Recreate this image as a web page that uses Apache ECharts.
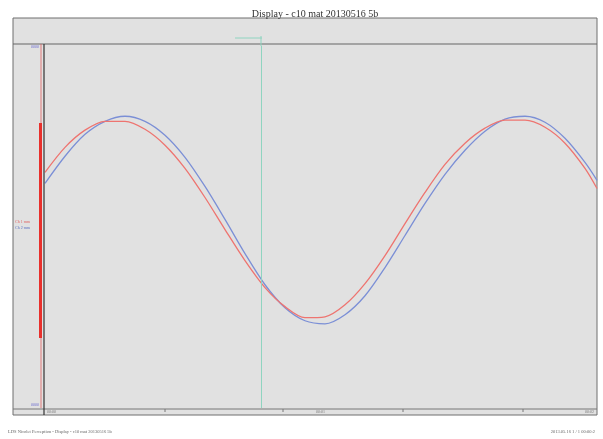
<!DOCTYPE html>
<html>
<head>
<meta charset="utf-8">
<script src="https://cdn.jsdelivr.net/npm/echarts@6/dist/echarts.min.js"></script>
<style>html,body{margin:0;padding:0;background:#fff}#c{width:603px;height:439px}</style>
</head>
<body>
<div id="c"></div>
<script>
const titleText = 'Display - c10 mat 20130516 5b';
const footerLeft = 'LDS Nicolet Perception - Display - c10 mat 20130516 5b';
const footerRight = '2013.05.16 1 / 1 00:00:2';
const timeMs = [0, 40, 80, 120, 160, 200, 240, 280, 320, 360, 400, 440, 480, 520, 560, 600, 640, 680, 720, 760, 800, 840, 880, 920, 960, 1000, 1040, 1080, 1104];
const blueY = [24.1, 39.1, 51.2, 58.4, 61.2, 58.4, 50.7, 38.5, 22.4, 4.2, -14.7, -31.9, -44.6, -51.8, -53.5, -48.5, -38.0, -22.4, -4.7, 13.0, 29.1, 42.4, 52.9, 59.6, 61.2, 57.9, 49.0, 35.7, 25.8];
const redY = [30.2, 44.0, 53.5, 58.4, 58.4, 54.0, 45.2, 32.4, 16.3, -1.4, -18.6, -33.5, -44.0, -50.1, -49.6, -43.0, -31.3, -15.8, 1.9, 19.1, 34.6, 46.3, 54.6, 59.0, 59.0, 55.1, 46.3, 32.4, 21.3];
const cursorX = 432;
const xTickLabels = ['00:00', '00:01', '00:02'];

const chart = echarts.init(document.getElementById('c'));
const pair = (xs, ys) => xs.map((x, i) => [x, ys[i]]);
const font = 'Liberation Serif';
chart.setOption({
  animation: false,
  backgroundColor: '#ffffff',
  title: {
    text: titleText, left: 310, top: 4, textAlign: 'center',
    textStyle: {fontFamily: font, fontSize: 10, fontWeight: 'normal', color: '#333'}
  },
  grid: {left: 45, right: 6, top: 46, bottom: 31, show: false},
  xAxis: {
    type: 'value', min: 0, max: 1104,
    axisLine: {show: false}, axisTick: {show: false}, axisLabel: {show: false}, splitLine: {show: false}
  },
  yAxis: {
    type: 'value', min: -100, max: 100,
    axisLine: {show: false}, axisTick: {show: false}, axisLabel: {show: false}, splitLine: {show: false}
  },
  graphic: [
    {type: 'rect', z: -10, shape: {x: 13, y: 18, width: 584, height: 397}, style: {fill: '#e1e1e1', stroke: '#6e6e6e', lineWidth: 1}},
    {type: 'line', z: 5, shape: {x1: 13, y1: 44, x2: 597, y2: 44}, style: {stroke: '#666', lineWidth: 1.2}},
    {type: 'line', z: 5, shape: {x1: 13, y1: 409, x2: 597, y2: 409}, style: {stroke: '#777', lineWidth: 1}},
    {type: 'line', z: 5, shape: {x1: 44, y1: 44, x2: 44, y2: 415}, style: {stroke: '#333', lineWidth: 1.2}},
    {type: 'line', z: 5, shape: {x1: 41, y1: 44, x2: 41, y2: 408}, style: {stroke: '#e06060', lineWidth: 0.8}},
    {type: 'rect', z: 6, shape: {x: 39, y: 123, width: 3, height: 215}, style: {fill: '#e8302c'}},
    {type: 'line', z: 5, shape: {x1: 235, y1: 38, x2: 262, y2: 38}, style: {stroke: '#8fd4c0', lineWidth: 1}},
    {type: 'line', z: 5, shape: {x1: 261, y1: 36, x2: 261, y2: 46}, style: {stroke: '#8fd4c0', lineWidth: 1}},
    {type: 'text', z: 6, style: {text: '0000', x: 31, y: 45, fontSize: 4, fill: '#6a6ad0', fontFamily: font}},
    {type: 'text', z: 6, style: {text: '0000', x: 31, y: 403, fontSize: 4, fill: '#6a6ad0', fontFamily: font}},
    {type: 'text', z: 6, style: {text: 'Ch 1 mm', x: 15, y: 220, fontSize: 4, fill: '#e06060', fontFamily: font}},
    {type: 'text', z: 6, style: {text: 'Ch 2 mm', x: 15, y: 226, fontSize: 4, fill: '#5a6fc0', fontFamily: font}},
    {type: 'text', z: 6, style: {text: xTickLabels[0], x: 47, y: 410, fontSize: 4, fill: '#777', fontFamily: font}},
    {type: 'text', z: 6, style: {text: xTickLabels[1], x: 316, y: 410, fontSize: 4, fill: '#777', fontFamily: font}},
    {type: 'text', z: 6, style: {text: xTickLabels[2], x: 585, y: 410, fontSize: 4, fill: '#777', fontFamily: font}},
    {type: 'line', z: 5, shape: {x1: 165, y1: 409, x2: 165, y2: 412}, style: {stroke: '#777'}},
    {type: 'line', z: 5, shape: {x1: 283, y1: 409, x2: 283, y2: 412}, style: {stroke: '#777'}},
    {type: 'line', z: 5, shape: {x1: 403, y1: 409, x2: 403, y2: 412}, style: {stroke: '#777'}},
    {type: 'line', z: 5, shape: {x1: 523, y1: 409, x2: 523, y2: 412}, style: {stroke: '#777'}},
    {type: 'text', z: 6, style: {text: footerLeft, x: 8, y: 429, fontSize: 4.5, fill: '#666', fontFamily: font}},
    {type: 'text', z: 6, style: {text: footerRight, x: 595, y: 429, align: 'right', fontSize: 4.5, fill: '#666', fontFamily: font}}
  ],
  series: [
    {
      type: 'line', name: 'blue', data: pair(timeMs, blueY), smooth: 0.3, showSymbol: false,
      lineStyle: {color: '#7b8fd6', width: 1.3}, z: 3,
      markLine: {
        silent: true, symbol: 'none', label: {show: false},
        lineStyle: {color: '#8fd4c0', width: 1, type: 'solid'},
        data: [{xAxis: cursorX}]
      }
    },
    {
      type: 'line', name: 'red', data: pair(timeMs, redY), smooth: 0.3, showSymbol: false,
      lineStyle: {color: '#ee7470', width: 1.3}, z: 4
    }
  ]
});
</script>
</body>
</html>
